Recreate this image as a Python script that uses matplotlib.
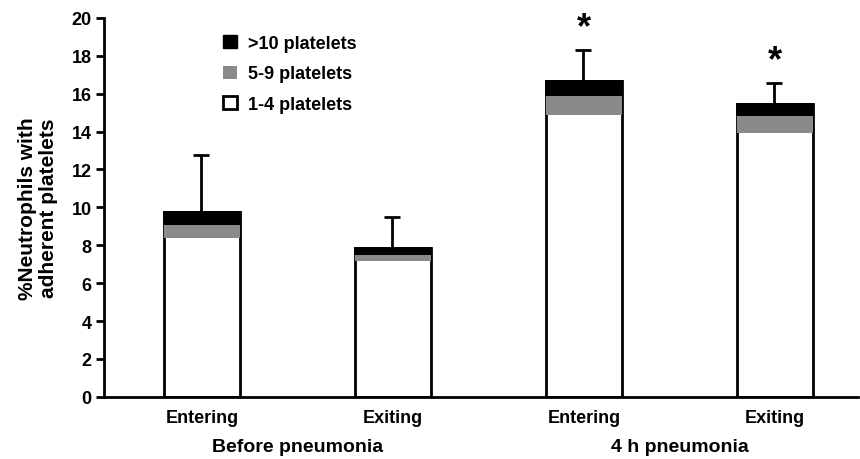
import numpy as np
import matplotlib
matplotlib.use("Agg")
import matplotlib.pyplot as plt
from matplotlib.patches import Patch

plt.rcParams['font.family'] = ['Liberation Sans', 'DejaVu Sans']
plt.rcParams['font.weight'] = 'bold'

# data
bar_labels = ["Entering", "Exiting", "Entering", "Exiting"]
groups = ["Before pneumonia", "4 h pneumonia"]
low = [8.4, 7.15, 14.85, 13.95]      # 1-4 platelets
mid = [0.68, 0.32, 1.02, 0.87]       # 5-9 platelets
high = [0.7, 0.38, 0.82, 0.64]       # >10 platelets
err = [3.0, 1.63, 1.62, 1.1]         # upper error on the total
signif = [False, False, True, True]

x = np.arange(len(bar_labels))
w = 0.4
lw = 2

fig = plt.figure(figsize=(8.6, 4.6), dpi=100)
ax = fig.add_axes([0.121, 0.135, 0.877, 0.824])

low = np.array(low)
mid = np.array(mid)
high = np.array(high)
total = low + mid + high

# white bar drawn to full height so its top edge hides under the black part
ax.bar(x, total, w, color="white", edgecolor="black", linewidth=lw, zorder=2)
ax.bar(x, mid, w, bottom=low, color="#8a8a8a", linewidth=0, zorder=3)
ax.bar(x, high + 0.05, w + 0.01, bottom=low + mid, color="black",
       linewidth=0, zorder=3)
ax.errorbar(x - 0.005, total, yerr=[np.zeros(len(x)), err], fmt="none",
            ecolor="black", elinewidth=lw, capsize=6, capthick=lw, zorder=1)

for xi, t, e, s in zip(x, total, err, signif):
    if s:
        ax.text(xi, t + e + 0.25, "*", ha="center", va="bottom", fontsize=26,
                fontweight="bold")

ax.set_xlim(-0.513, 3.435)
ax.set_ylim(0, 20)
ax.set_yticks(np.arange(0, 21, 2))
ax.set_xticks(x)
ax.set_xticklabels(bar_labels, fontsize=13, fontweight="bold")
ax.tick_params(axis="y", labelsize=13, width=lw, length=6, direction="out",
               pad=3)
ax.tick_params(axis="x", length=0, pad=9)
for lab in ax.get_yticklabels():
    lab.set_fontweight("bold")
for sp in ["top", "right"]:
    ax.spines[sp].set_visible(False)
for sp in ["left", "bottom"]:
    ax.spines[sp].set_linewidth(lw)

ax.set_ylabel("%Neutrophils with\nadherent platelets", fontsize=15,
              fontweight="bold", labelpad=10, linespacing=1.1)

for i, g in enumerate(groups):
    ax.text(2 * i + 0.5, -0.108, g, transform=ax.get_xaxis_transform(),
            ha="center", va="top", fontsize=14, fontweight="bold")

handles = [Patch(facecolor="black", edgecolor="black"),
           Patch(facecolor="#8a8a8a", edgecolor="none"),
           Patch(facecolor="white", edgecolor="black", linewidth=2)]
ax.legend(handles, [">10 platelets", "5-9 platelets", "1-4 platelets"],
          loc="upper left", bbox_to_anchor=(0.158, 0.955), frameon=False,
          borderpad=0, borderaxespad=0,
          handlelength=0.75, handleheight=0.75, handletextpad=0.6,
          labelspacing=0.75, prop={"size": 13, "weight": "bold"})

fig.savefig("out.png", dpi=100)
